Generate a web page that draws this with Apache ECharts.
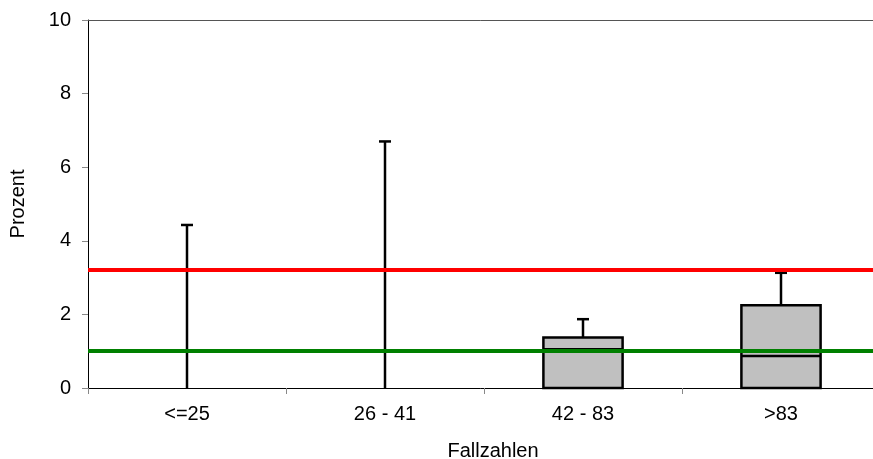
<!DOCTYPE html>
<html>
<head>
<meta charset="utf-8">
<script src="https://cdn.jsdelivr.net/npm/echarts@6/dist/echarts.min.js"></script>
<style>
  html, body { margin: 0; padding: 0; background: #fff; }
  #chart { width: 873px; height: 459px; }
</style>
</head>
<body>
<div id="chart"></div>
<script>
// Fallzahlen-Gruppen und Kennwerte der Verteilung (Prozent)
const categories = ['<=25', '26 - 41', '42 - 83', '>83'];
const minValues    = [0, 0, 0, 0];
const q1Values     = [0, 0, 0, 0];
const medianValues = [0, 0, 1.05, 0.87];
const q3Values     = [0, 0, 1.37, 2.25];
const maxValues    = [4.43, 6.70, 1.87, 3.13];

// Referenzlinien
const redLineValue = 3.22;
const greenLineValue = 1.0;

// y-Achse
const yMin = 0, yMax = 10, yStep = 2;

const boxData = categories.map((c, i) => [i, minValues[i], q1Values[i], medianValues[i], q3Values[i], maxValues[i]]);

const FONT = 'Liberation Sans, Arial, sans-serif';

function renderBox(params, api) {
  const idx = api.value(0);
  const vMin = api.value(1), vQ1 = api.value(2), vMed = api.value(3), vQ3 = api.value(4), vMax = api.value(5);
  const cx = api.coord([idx, 0])[0];
  const band = api.size([1, 0])[0];
  const half = band * 0.2;
  const capHalf = 6;
  const yOf = v => api.coord([idx, v])[1];
  const line = { stroke: '#000', lineWidth: 2.5 };
  const children = [];

  // Oberer Whisker mit Endstrich
  children.push({ type: 'line', shape: { x1: cx, y1: yOf(vQ3), x2: cx, y2: yOf(vMax) }, style: line });
  children.push({ type: 'line', shape: { x1: cx - capHalf, y1: yOf(vMax), x2: cx + capHalf, y2: yOf(vMax) }, style: line });

  // Unterer Whisker, nur wenn vorhanden
  if (vQ1 > vMin) {
    children.push({ type: 'line', shape: { x1: cx, y1: yOf(vMin), x2: cx, y2: yOf(vQ1) }, style: line });
    children.push({ type: 'line', shape: { x1: cx - capHalf, y1: yOf(vMin), x2: cx + capHalf, y2: yOf(vMin) }, style: line });
  }

  // Box und Median
  if (vQ3 > vQ1) {
    const yTop = yOf(vQ3), yBot = yOf(vQ1);
    children.push({ type: 'rect', shape: { x: cx - half, y: yTop, width: half * 2, height: yBot - yTop },
      style: { fill: '#c0c0c0', stroke: '#000', lineWidth: 2.5 } });
    children.push({ type: 'line', shape: { x1: cx - half, y1: yOf(vMed), x2: cx + half, y2: yOf(vMed) }, style: line });
  }
  return { type: 'group', children };
}

const chart = echarts.init(document.getElementById('chart'), null, { renderer: 'canvas' });

chart.setOption({
  animation: false,
  backgroundColor: '#fff',
  grid: { left: 88, top: 20, width: 792, height: 368, containLabel: false, outerBoundsMode: 'none' },
  xAxis: [
    {
      type: 'category',
      data: categories,
      boundaryGap: true,
      name: 'Fallzahlen',
      nameLocation: 'middle',
      nameGap: 53,
      nameTextStyle: { fontFamily: FONT, fontSize: 20, color: '#000', padding: [0, 0, 0, 18] },
      axisLine: { show: true, onZero: false, lineStyle: { color: '#000', width: 1 } },
      axisTick: { show: true, length: 6, lineStyle: { color: '#888' } },
      axisLabel: { margin: 16, fontFamily: FONT, fontSize: 20, color: '#000' },
      splitLine: { show: false }
    },
    {
      type: 'category',
      data: categories,
      position: 'top',
      axisLine: { show: true, onZero: false, lineStyle: { color: '#555', width: 1 } },
      axisTick: { show: false },
      axisLabel: { show: false },
      splitLine: { show: false }
    }
  ],
  yAxis: {
    type: 'value',
    min: yMin,
    max: yMax,
    interval: yStep,
    name: 'Prozent',
    nameLocation: 'middle',
    nameGap: 60,
    nameTextStyle: { fontFamily: FONT, fontSize: 20, color: '#000' },
    axisLine: { show: true, lineStyle: { color: '#000', width: 1 } },
    axisTick: { show: true, inside: false, length: 6, lineStyle: { color: '#888' } },
    axisLabel: { margin: 17, fontFamily: FONT, fontSize: 20, color: '#000' },
    splitLine: { show: false }
  },
  series: [
    {
      type: 'custom',
      xAxisIndex: 0,
      yAxisIndex: 0,
      renderItem: renderBox,
      encode: { x: 0, y: [1, 2, 3, 4, 5] },
      data: boxData,
      z: 2
    },
    {
      type: 'line',
      xAxisIndex: 0,
      data: [],
      z: 5,
      markLine: {
        silent: true,
        symbol: 'none',
        label: { show: false },
        data: [
          { yAxis: redLineValue, lineStyle: { color: '#ff0000', width: 4, type: 'solid' } },
          { yAxis: greenLineValue, lineStyle: { color: '#008000', width: 4, type: 'solid' } }
        ]
      }
    }
  ]
});
</script>
</body>
</html>
